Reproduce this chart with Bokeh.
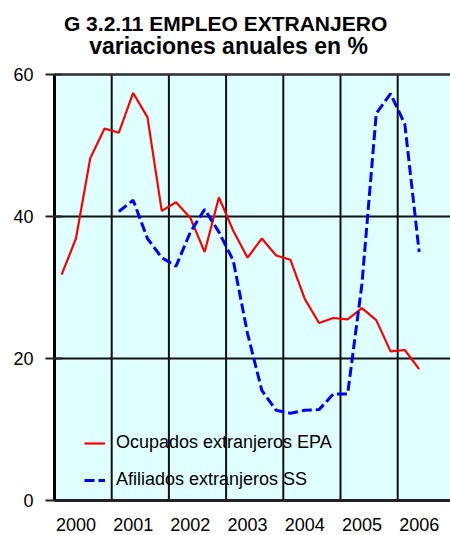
from bokeh.plotting import figure
from bokeh.models import Range1d, FixedTicker, Span, Label, BoxAnnotation
from bokeh.embed import file_html
from bokeh.resources import INLINE

# ---------------- data ----------------
years = ["2000", "2001", "2002", "2003", "2004", "2005", "2006"]
y_ticks = [0, 20, 40, 60]
y_max = 60

# quarterly series, first value = 2000 Q1 (index 0)
epa_start = 0
epa_values = [31.8, 36.9, 48.2, 52.4, 51.8, 57.4, 54.0, 40.8, 42.0, 39.8,
              35.0, 42.7, 38.0, 34.2, 36.9, 34.5, 33.9, 28.4, 25.0, 25.7,
              25.5, 27.1, 25.4, 21.0, 21.2, 18.5]
# first value = 2001 Q1 (index 4)
ss_start = 4
ss_values = [40.7, 42.3, 36.9, 34.2, 33.0, 37.8, 41.0, 37.8, 33.8, 23.5,
             15.5, 12.7, 12.3, 12.7, 12.8, 15.0, 15.0, 30.5, 54.5, 57.3,
             53.0, 35.0]

title1 = "G 3.2.11 EMPLEO  EXTRANJERO"
title2 = "variaciones anuales en %"
name_epa = "Ocupados extranjeros EPA"
name_ss = "Afiliados extranjeros SS"

# ---------------- layout ----------------
W, H = 450, 535
LEFT, BOTTOM = 54, 35
PLOT_TOP = 74            # pixel row of the value 60
frame_w = W - LEFT
frame_h = H - BOTTOM     # frame reaches the top of the canvas (titles live inside)
px_per_quarter = 14.3
px_per_unit = (frame_h - PLOT_TOP) / y_max
x_end = frame_w / px_per_quarter
y_end = frame_h / px_per_unit

FONT = "Liberation Sans"

p = figure(width=W, height=H, output_backend="svg", toolbar_location=None,
           x_range=Range1d(0, x_end), y_range=Range1d(0, y_end),
           min_border_left=LEFT, min_border_right=0, min_border_top=0,
           min_border_bottom=BOTTOM, title=None)
p.background_fill_color = "white"
p.border_fill_color = "white"
p.outline_line_color = None

# plot-area background
p.add_layout(BoxAnnotation(left=0, right=x_end, bottom=0, top=y_max,
                           fill_color="#E0FFFF", fill_alpha=1, line_color=None,
                           level="image"))

# horizontal grid
p.ygrid.ticker = FixedTicker(ticks=y_ticks)
p.ygrid.grid_line_color = "#111111"
p.ygrid.grid_line_width = 2
p.xgrid.grid_line_color = None

# vertical year separators, limited to the plot area (0..60)
year_bounds = [4 * k for k in range(1, len(years))]
p.segment(x0=year_bounds, y0=[0] * len(year_bounds), x1=year_bounds,
          y1=[y_max] * len(year_bounds), line_color="#111111", line_width=2)

# y axis
p.yaxis.ticker = FixedTicker(ticks=y_ticks)
p.yaxis.bounds = (0, y_max)
p.yaxis.axis_line_color = "black"
p.yaxis.axis_line_width = 3
p.yaxis.major_tick_out = 9
p.yaxis.major_tick_in = 8
p.yaxis.major_tick_line_width = 2
p.yaxis.major_tick_line_color = "#222222"
p.yaxis.minor_tick_line_color = None
p.yaxis.major_label_standoff = 12
p.yaxis.major_label_text_font = FONT
p.yaxis.major_label_text_font_size = "18px"
p.yaxis.major_label_text_color = "black"

# x axis: year labels under the second quarter of each year
label_pos = [4 * k + 1.5 for k in range(len(years))]
p.xaxis.ticker = FixedTicker(ticks=label_pos)
p.xaxis.major_label_overrides = {pos: y for pos, y in zip(label_pos, years)}
p.xaxis.axis_line_color = "#222222"
p.xaxis.axis_line_width = 3
p.xaxis.major_tick_out = 0
p.xaxis.major_tick_in = 0
p.xaxis.minor_tick_line_color = None
p.xaxis.major_label_standoff = 17
p.xaxis.major_label_text_font = FONT
p.xaxis.major_label_text_font_size = "18px"
p.xaxis.major_label_text_color = "black"

# top border
p.add_layout(Span(location=y_max, dimension="width", line_color="#333333", line_width=2))

# series
x_epa = [epa_start + i + 0.5 for i in range(len(epa_values))]
x_ss = [ss_start + i + 0.5 for i in range(len(ss_values))]
p.line(x_epa, epa_values, line_color="#FF0000", line_width=2.2, legend_label=name_epa)
p.line(x_ss, ss_values, line_color="#0000FF", line_width=3, line_dash="10 4",
       legend_label=name_ss)

leg = p.legend[0]
leg.location = (30, 10)
leg.background_fill_alpha = 0
leg.border_line_color = None
leg.padding = 0
leg.margin = 0
leg.spacing = 16
leg.glyph_width = 21
leg.glyph_height = 20
leg.label_height = 20
leg.label_standoff = 11
leg.label_text_font = FONT
leg.label_text_font_size = "18px"
leg.label_text_color = "black"

# title lines (centred on the whole chart), baselines at given pixel rows
xc = (228 - LEFT) / px_per_quarter
for text, base_px, size in [(title1, 22.7, "21px"), (title2, 45.3, "23px")]:
    p.add_layout(Label(x=xc, y=(frame_h - base_px) / px_per_unit, text=text,
                       text_align="center", text_baseline="alphabetic",
                       text_font=FONT, text_font_style="bold",
                       text_font_size=size, text_color="black"))

open("out.html", "w").write(file_html(p, INLINE))
